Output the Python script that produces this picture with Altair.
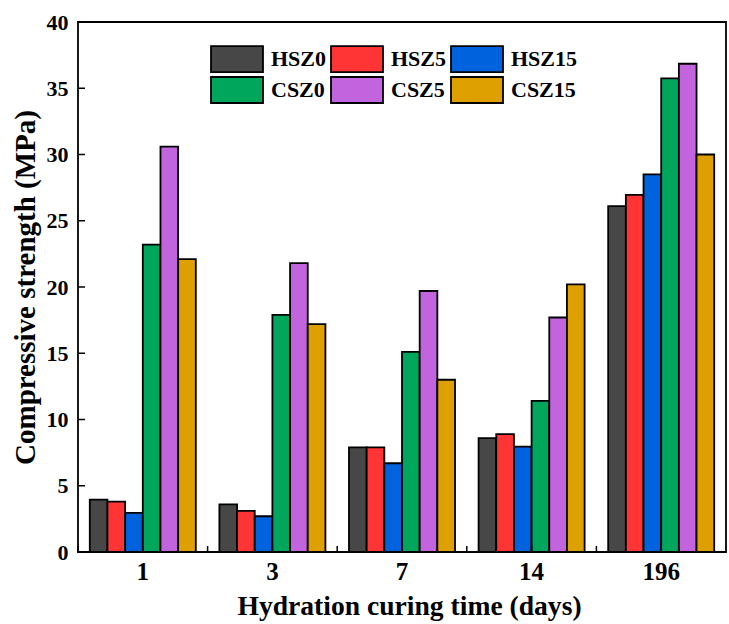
import altair as alt
import pandas as pd

# Curing ages (days) and mix designations
days = ["1", "3", "7", "14", "196"]
series = ["HSZ0", "HSZ5", "HSZ15", "CSZ0", "CSZ5", "CSZ15"]
colors = ["#474747", "#FF3535", "#0062DD", "#00A65C", "#C264DE", "#DE9F00"]

# Compressive strength (MPa) per mix, one value per curing age
hsz0 = [3.95, 3.6, 7.9, 8.6, 26.1]
hsz5 = [3.8, 3.1, 7.9, 8.9, 26.95]
hsz15 = [2.95, 2.7, 6.7, 7.95, 28.5]
csz0 = [23.2, 17.9, 15.1, 11.4, 35.75]
csz5 = [30.6, 21.8, 19.7, 17.7, 36.85]
csz15 = [22.1, 17.2, 13.0, 20.2, 30.0]

y_ticks = [0, 5, 10, 15, 20, 25, 30, 35, 40]

values = [hsz0, hsz5, hsz15, csz0, csz5, csz15]
rows = []
for name, vals in zip(series, values):
    for d, v in zip(days, vals):
        rows.append({"day": d, "mix": name, "strength": v})
df = pd.DataFrame(rows)

FONT = "Liberation Serif"
W, H = 648, 530

x_scale = alt.Scale(type="band", domain=days, paddingInner=0, paddingOuter=0)
y_scale = alt.Scale(domain=[0, 40], nice=False)

bars = alt.Chart(df).mark_bar(stroke="black", strokeWidth=1.8, opacity=1).encode(
    x=alt.X(
        "day:N",
        scale=x_scale,
        sort=days,
        axis=alt.Axis(
            title="Hydration curing time (days)",
            labelAngle=0,
            labelFontSize=25,
            labelPadding=7,
            titlePadding=8,
            titleFontSize=27.6,
            titleX=W / 2 + 7,
        ),
    ),
    xOffset=alt.XOffset(
        "mix:N",
        sort=series,
        scale=alt.Scale(domain=series, paddingInner=0, paddingOuter=0.667),
    ),
    y=alt.Y(
        "strength:Q",
        scale=y_scale,
        axis=alt.Axis(
            title="Compressive strength (MPa)",
            values=y_ticks,
            labelFontSize=22,
            labelPadding=10,
            titlePadding=6,
            titleLimit=1000,
            titleFontSize=29,
        ),
    ),
    color=alt.Color(
        "mix:N",
        sort=series,
        scale=alt.Scale(domain=series, range=colors),
        legend=alt.Legend(
            title=None,
            orient="none",
            direction="horizontal",
            legendX=132,
            legendY=23,
            columns=3,
            columnPadding=0,
            rowPadding=-3,
            symbolType="M-1,-1H3V1H-1Z",
            symbolSize=676,
            symbolStrokeColor="black",
            symbolStrokeWidth=1.8,
            symbolOpacity=1,
            labelFont=FONT,
            labelFontWeight="bold",
            labelFontSize=22,
            labelColor="black",
            labelOffset=33,
            labelBaseline="middle",
        ),
    ),
    stroke=alt.value("black"),
    strokeWidth=alt.value(1.8),
)

# Inward tick marks on the category axis: group centres and group boundaries
tick_df = pd.DataFrame({"day": days})
x_center_ticks = alt.Chart(tick_df).mark_rule(color="black", strokeWidth=1.5).encode(
    x=alt.X("day:N", scale=x_scale, sort=days, bandPosition=0.5),
    y=alt.value(H),
    y2=alt.value(H - 6),
)
x_edge_ticks = alt.Chart(tick_df).mark_rule(color="black", strokeWidth=1.5).encode(
    x=alt.X("day:N", scale=x_scale, sort=days, bandPosition=0),
    y=alt.value(H),
    y2=alt.value(H - 6),
)

# Inward tick marks on the strength axis
ytick_df = pd.DataFrame({"v": y_ticks})
y_ticks_rule = alt.Chart(ytick_df).mark_rule(color="black", strokeWidth=1.5).encode(
    y=alt.Y("v:Q", scale=y_scale),
    x=alt.value(0),
    x2=alt.value(7),
)

chart = (
    alt.layer(bars, x_center_ticks, x_edge_ticks, y_ticks_rule)
    .properties(
        width=W,
        height=H,
        padding={"left": 78, "top": 22, "right": 3, "bottom": 72},
        autosize=alt.AutoSizeParams(type="none"),
        background="white",
    )
    .configure_view(stroke="black", strokeWidth=1.8)
    .configure_axis(
        domain=False,
        ticks=False,
        grid=False,
        labelFont=FONT,
        labelFontWeight="bold",
        labelColor="black",
        titleFont=FONT,
        titleFontWeight="bold",
        titleColor="black",
    )
)

chart.save("out.html", embed_options={"renderer": "svg", "actions": False})
